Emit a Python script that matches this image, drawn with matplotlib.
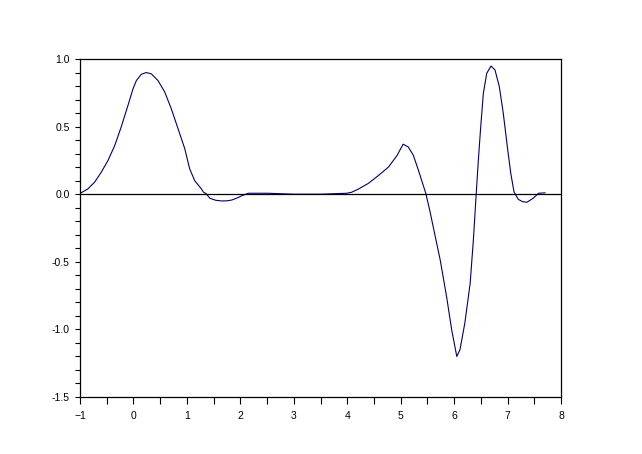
# %%
# Scilab-style wavelet plot
import numpy as np
import matplotlib
matplotlib.use('Agg')
import matplotlib.pyplot as plt

# Curve samples (x, y)
x_vals = [-1.0, -0.976, -0.85, -0.725, -0.60, -0.476, -0.35, -0.227, -0.10, -0.008,
          0.054, 0.148, 0.24, 0.335, 0.46, 0.585, 0.71, 0.834, 0.96, 1.05,
          1.146, 1.27, 1.31, 1.36, 1.43, 1.54, 1.65, 1.75, 1.84, 1.94,
          2.03, 2.15, 2.30, 2.52, 3.00, 3.50, 3.99, 4.08, 4.21, 4.395,
          4.58, 4.77, 4.93, 5.046, 5.14, 5.235, 5.33, 5.42, 5.47, 5.55,
          5.64, 5.74, 5.86, 5.955, 6.05, 6.11, 6.20, 6.30, 6.36, 6.41,
          6.453, 6.498, 6.547, 6.61, 6.69, 6.765, 6.846, 6.92, 6.996, 7.06,
          7.12, 7.20, 7.28, 7.36, 7.48, 7.58, 7.70]
y_vals = [0.0, 0.011, 0.04, 0.09, 0.164, 0.25, 0.36, 0.50, 0.66, 0.78,
          0.84, 0.887, 0.90, 0.89, 0.84, 0.756, 0.63, 0.485, 0.337, 0.19,
          0.10, 0.04, 0.015, 0.004, -0.03, -0.045, -0.05, -0.049, -0.043, -0.028,
          -0.011, 0.007, 0.007, 0.007, 0.0, 0.0, 0.007, 0.014, 0.038, 0.08,
          0.137, 0.20, 0.285, 0.37, 0.35, 0.29, 0.18, 0.068, 0.007, -0.13,
          -0.30, -0.487, -0.76, -1.004, -1.20, -1.15, -0.955, -0.66, -0.34, -0.02,
          0.25, 0.50, 0.746, 0.894, 0.948, 0.919, 0.795, 0.598, 0.35, 0.155,
          0.018, -0.038, -0.055, -0.06, -0.03, 0.007, 0.01]

x_ticks = [-1, 0, 1, 2, 3, 4, 5, 6, 7, 8]
y_ticks = [-1.5, -1.0, -0.5, 0.0, 0.5, 1.0]
y_tick_labels = ['-1.5', '-1.0', '-0.5', '0.0', '0.5', '1.0']

plt.rcParams['font.family'] = ['Liberation Sans', 'DejaVu Sans']

fig = plt.figure(figsize=(6.42, 4.54), dpi=100)
ax = fig.add_axes([80/642, 57/454, 481/642, 338/454])

ax.plot(x_vals, y_vals, color='#000070', lw=0.8)
ax.axhline(0, color='black', lw=0.9)

ax.set_xlim(-1, 8)
ax.set_ylim(-1.5, 1.0)
ax.set_xticks(x_ticks)
ax.set_xticks(np.arange(-0.5, 8, 1.0), minor=True)
ax.set_yticks(y_ticks)
ax.set_yticklabels(y_tick_labels)
ax.set_yticks(np.arange(-1.5, 1.01, 0.1), minor=True)

ax.tick_params(axis='x', which='both', direction='out', length=5, width=0.8,
               labelsize=7.5, pad=5)
ax.tick_params(axis='y', which='both', direction='out', length=3.5, width=0.8,
               labelsize=7.5, pad=4)
for s in ax.spines.values():
    s.set_linewidth(0.9)

fig.savefig('out.png', dpi=100)
